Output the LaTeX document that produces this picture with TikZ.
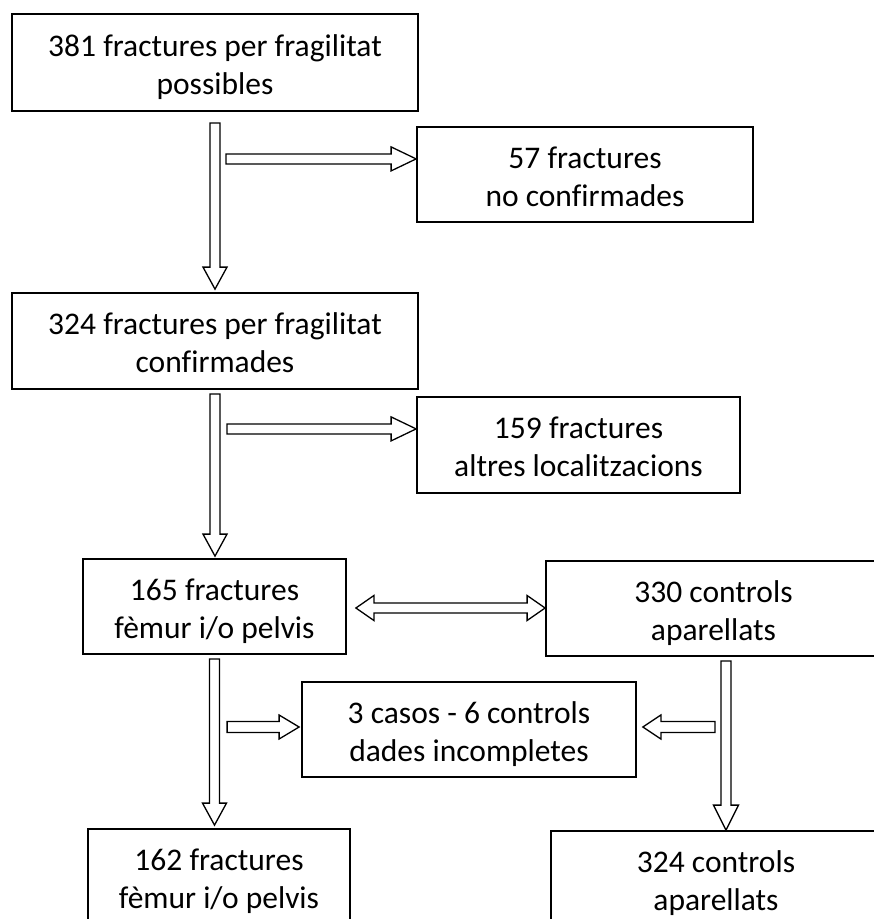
\documentclass[tikz,border=0pt]{standalone}
\usepackage{fontspec}
\setmainfont{Carlito}[Ligatures=NoCommon]
\usetikzlibrary{calc}
\newcommand\twol[2]{\rule{0pt}{33pt}#1\\#2\rule[-8pt]{0pt}{8pt}}
\newcommand\varrow[5]{\draw[barrow] ($(#1)+(-#3,0)$) -- ($(#2)+(-#3,-#5)$) -- ($(#2)+(-#4,-#5)$) -- (#2) -- ($(#2)+(#4,-#5)$) -- ($(#2)+(#3,-#5)$) -- ($(#1)+(#3,0)$) -- cycle;}
\newcommand\rarrow[5]{\draw[barrow] ($(#1)+(0,-#3)$) -- ($(#2)+(-#5,-#3)$) -- ($(#2)+(-#5,-#4)$) -- (#2) -- ($(#2)+(-#5,#4)$) -- ($(#2)+(-#5,#3)$) -- ($(#1)+(0,#3)$) -- cycle;}
\newcommand\larrow[5]{\draw[barrow] ($(#1)+(0,-#3)$) -- ($(#2)+(#5,-#3)$) -- ($(#2)+(#5,-#4)$) -- (#2) -- ($(#2)+(#5,#4)$) -- ($(#2)+(#5,#3)$) -- ($(#1)+(0,#3)$) -- cycle;}
\newcommand\darrow[5]{\draw[barrow] (#1) -- ($(#1)+(#5,-#4)$) -- ($(#1)+(#5,-#3)$) -- ($(#2)+(-#5,-#3)$) -- ($(#2)+(-#5,-#4)$) -- (#2) -- ($(#2)+(-#5,#4)$) -- ($(#2)+(-#5,#3)$) -- ($(#1)+(#5,#3)$) -- ($(#1)+(#5,#4)$) -- cycle;}
\tikzset{
  box/.style={draw=black, line width=1.8pt, fill=white, inner sep=0pt, align=center,
    font=\fontsize{31.5}{38}\selectfont},
  barrow/.style={draw=black, line width=1.3pt, fill=white, line join=miter}
}
\begin{document}
\begin{tikzpicture}[x=1pt,y=-1pt]
\useasboundingbox (0,0) rectangle (874,919);
\fill[white] (0,0) rectangle (874,919);
\clip (0,0) rectangle (874,919);
% boxes
\node[box, minimum width=406, minimum height=97] (b1) at (215,62.5) {\twol{381 fractures per fragilitat}{possibles}};
\node[box, minimum width=336, minimum height=95] (b57) at (585,174.5) {\twol{57 fractures}{no confirmades}};
\node[box, minimum width=406, minimum height=96] (b2) at (215,341) {\twol{324 fractures per fragilitat}{confirmades}};
\node[box, minimum width=323, minimum height=96] (b159) at (578.5,445) {\twol{159 fractures}{altres localitzacions}};
\node[box, minimum width=263, minimum height=95] (b165) at (214.5,606.5) {\twol{165 fractures}{fèmur i/o pelvis}};
\node[box, minimum width=335, minimum height=95] (b330) at (713.5,608.5) {\twol{330 controls}{aparellats}};
\node[box, minimum width=334, minimum height=95] (b3) at (469,729.5) {\twol{3 casos - 6 controls}{dades incompletes}};
\node[box, minimum width=262, minimum height=95] (b162) at (219,876.5) {\twol{162 fractures}{fèmur i/o pelvis}};
\node[box, minimum width=330, minimum height=95] (b324) at (716,878.5) {\twol{324 controls}{aparellats}};
% arrow end points
\coordinate (a1s) at ($(b1.south)+(0,11)$);
\coordinate (a1t) at ($(a1s |- b2.north)+(0,-3)$);
\coordinate (a2s) at ($(b1.south)+(11,47)$);
\coordinate (a2t) at (a2s -| b57.west);
\coordinate (a3s) at ($(b2.south)+(0,4)$);
\coordinate (a3t) at ($(a3s |- b165.north)+(0,-2)$);
\coordinate (a4s) at ($(b2.south)+(12,39)$);
\coordinate (a4t) at (a4s -| b159.west);
\coordinate (a5l) at ($(b165.east)+(9,1.5)$);
\coordinate (a5r) at (a5l -| b330.west);
\coordinate (a6s) at ($(b165.south)+(0,4)$);
\coordinate (a6t) at ($(a6s |- b162.north)+(0,-3)$);
\coordinate (a7t) at ($(b3.west)+(-2,-2.5)$);
\coordinate (a7s) at ($(a7t)+(-72,0)$);
\coordinate (a8t) at ($(b3.east)+(6,-2.5)$);
\coordinate (a8s) at ($(a8t)+(72,0)$);
\coordinate (a9s) at ($(b330.south)+(12.5,4)$);
\coordinate (a9t) at (a9s |- b324.north);
% block arrows
\varrow{a1s}{a1t}{5}{12}{22}
\rarrow{a2s}{a2t}{5}{12}{25}
\varrow{a3s}{a3t}{5}{12}{22}
\rarrow{a4s}{a4t}{5}{12}{25}
\darrow{a5l}{a5r}{5}{12.5}{18}
\varrow{a6s}{a6t}{5}{12}{22}
\rarrow{a7s}{a7t}{5.5}{12}{20}
\larrow{a8s}{a8t}{5.5}{12}{18}
\varrow{a9s}{a9t}{5}{12.5}{25}
\end{tikzpicture}
\end{document}
